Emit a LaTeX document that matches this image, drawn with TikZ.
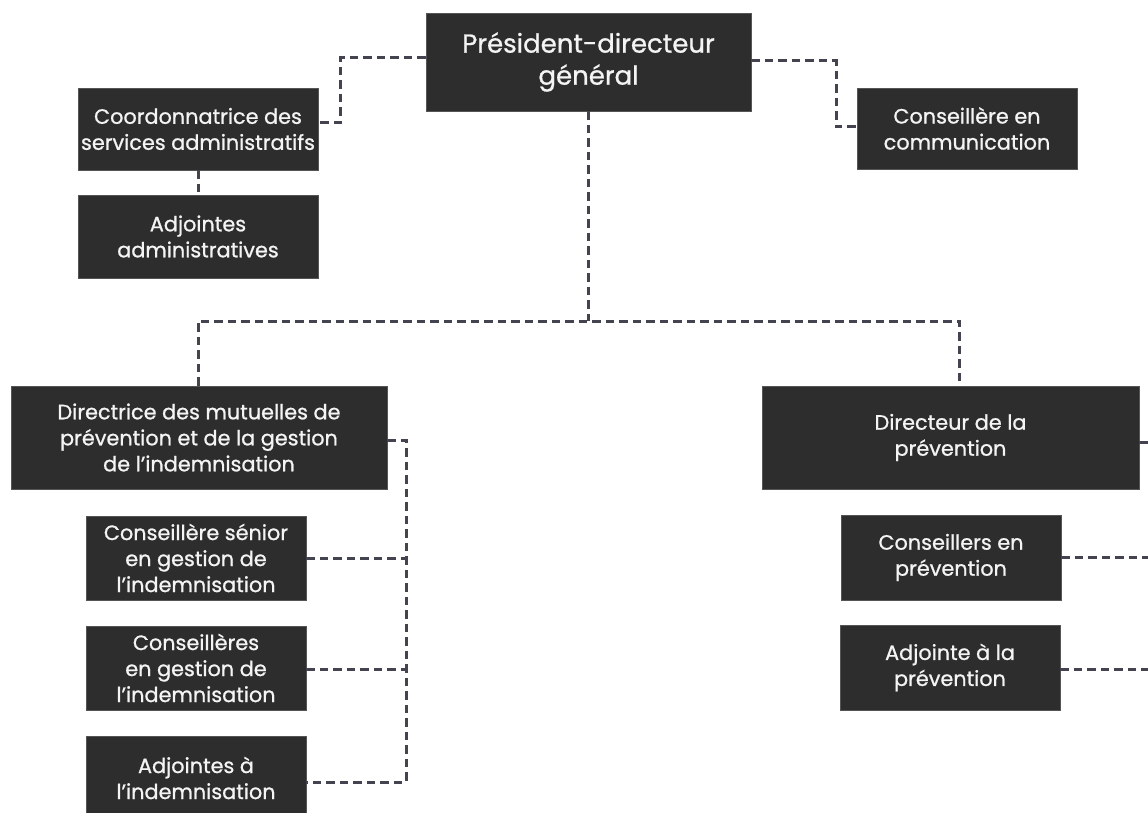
\documentclass[tikz,border=0pt]{standalone}
\usepackage{fontspec}
\setmainfont{Poppins}[FakeBold=0.9]
\newfontfamily\boxfont{Poppins}[FakeBold=0.9]
\definecolor{boxc}{HTML}{2D2D2D}
\definecolor{boxb}{HTML}{555555}
\definecolor{linec}{HTML}{444450}
\definecolor{txtc}{HTML}{F4F4F4}
\begin{document}
\begin{tikzpicture}[x=1pt,y=-1pt,
  box/.style={rectangle, fill=boxc, draw=boxb, line width=0.8pt, text=txtc, align=center,
    font=\boxfont\fontsize{20.8}{26}\selectfont, inner sep=0pt},
  conn/.style={draw=linec, line width=3pt, dash pattern=on 8.5pt off 5pt}]
\clip (0,0) rectangle (1148,813);
\fill[white] (0,0) rectangle (1148,813);

% nodes
\node[box, minimum width=325pt, minimum height=98pt, font=\boxfont\fontsize{26}{32}\selectfont] (pdg) at (588.5,62) {Président-directeur\\général};
\node[box, minimum width=240pt, minimum height=82pt] (coord) at (198,129) {Coordonnatrice des\\services administratifs};
\node[box, minimum width=240pt, minimum height=83pt] (adjadm) at (198,236.5) {Adjointes\\administratives};
\node[box, minimum width=220pt, minimum height=81pt] (comm) at (967,128.5) {Conseillère en\\communication};
\node[box, minimum width=376pt, minimum height=103pt] (dir1) at (199,437.5) {Directrice des mutuelles de\\prévention et de la gestion\\de l’indemnisation};
\node[box, minimum width=377pt, minimum height=103pt] (dir2) at (950.5,437.5) {Directeur de la\\prévention};
\node[box, minimum width=220pt, minimum height=84pt] (s1) at (196,558) {Conseillère sénior\\en gestion de\\l’indemnisation};
\node[box, minimum width=220pt, minimum height=84pt] (s2) at (196,668) {Conseillères\\en gestion de\\l’indemnisation};
\node[box, minimum width=220pt, minimum height=84pt] (s3) at (196,778) {Adjointes à\\l’indemnisation};
\node[box, minimum width=220pt, minimum height=85pt] (p1) at (951,557.5) {Conseillers en\\prévention};
\node[box, minimum width=220pt, minimum height=85pt] (p2) at (950,667.5) {Adjointe à la\\prévention};

% coordinates
\coordinate (k1) at (340,58);
\coordinate (k2) at (340,123);
\coordinate (m1) at (836,61);
\coordinate (m2) at (836,127);
\coordinate (h0) at (588.5,321);
\coordinate (hl) at (198,321);
\coordinate (hr) at (959,321);
\coordinate (b1) at (406,440);
\coordinate (b4) at (406,782);
\coordinate (r1) at (1151,442);
\coordinate (r3) at (1151,669);

% connectors
\draw[conn] (pdg.west |- k1) -- (k1) -- (k2) -- (coord.east |- k2);
\draw[conn] (pdg.east |- m1) -- (m1) -- (m2) -- (comm.west |- m2);
\draw[conn] (coord.south) -- (adjadm.north);
\draw[conn] (pdg.south) -- (h0);
\draw[conn] (hl |- dir1.north) -- (hl) -- (hr) -- (hr |- dir2.north);
\draw[conn] (dir1.east |- b1) -- (b1) -- (b4) -- (s3.east |- b4);
\draw[conn] (s1.east) -- (s1.east -| b1);
\draw[conn] (s2.east |- 0,669) -- (b1 |- 0,669);
\draw[conn] (dir2.east |- r1) -- (r1) -- (r3);
\draw[conn] (p1.east) -- (p1.east -| r1);
\draw[conn] (p2.east |- r3) -- (r3);
\end{tikzpicture}
\end{document}
